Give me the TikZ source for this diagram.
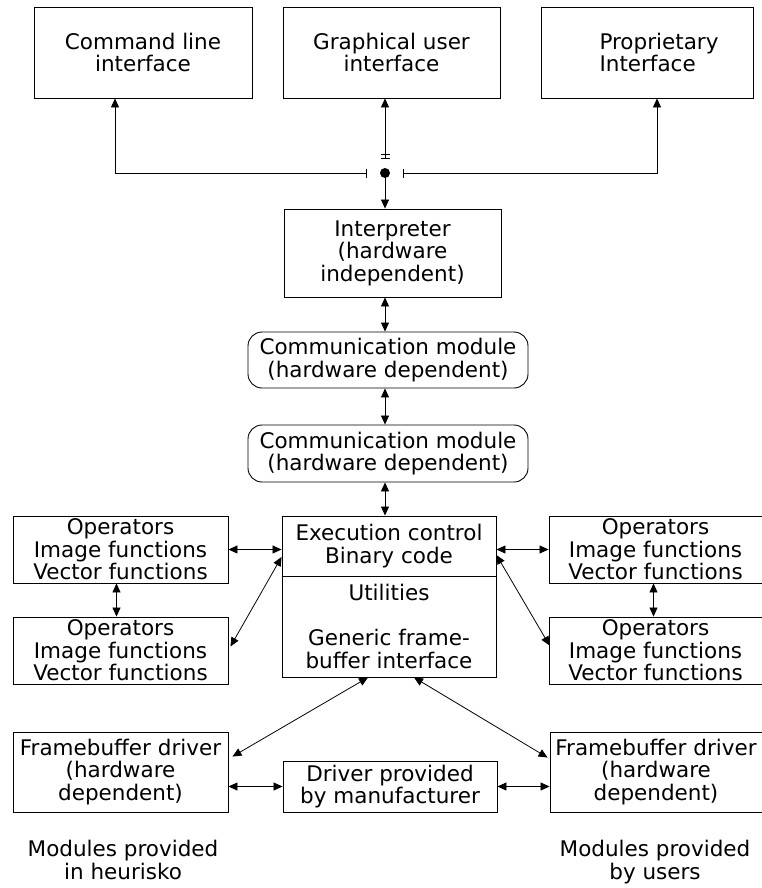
\documentclass[tikz,border=0pt]{standalone}
\usepackage{fontspec}
\setmainfont{DejaVu Sans}
\usetikzlibrary{arrows.meta}

\begin{document}
\begin{tikzpicture}[x=1pt,y=-1pt,>={Triangle[length=9pt,width=8pt]},
  box/.style={draw,line width=0.9pt,align=center,inner sep=0pt,font=\fontsize{21.5}{22.5}\selectfont},
  caption/.style={align=center,inner sep=0pt,anchor=north,font=\fontsize{21.5}{22.5}\selectfont},
  link/.style={line width=0.8pt}]
\useasboundingbox (0,0) rectangle (762,888);
\node[box,minimum width=218pt,minimum height=91pt] (cli) at (143,52.5) {Command line\\interface};
\node[box,minimum width=217pt,minimum height=91pt] (gui) at (391.5,52.5) {Graphical user\\interface};
\node[box,minimum width=212pt,minimum height=91pt,align=left] (prop) at (647,52.5) {\hspace*{24pt}Proprietary\\\hspace*{24pt}Interface};
\node[box,minimum width=217pt,minimum height=88pt] (interp) at (392.5,253) {Interpreter\\(hardware\\independent)};
\node[box,rounded corners=14pt,minimum width=280pt,minimum height=56pt] (comm1) at (388,360) {Communication module\\(hardware dependent)};
\node[box,rounded corners=14pt,minimum width=280pt,minimum height=57pt] (comm2) at (388,453.5) {Communication module\\(hardware dependent)};
\node[box,minimum width=214pt,minimum height=60pt] (exec) at (389,546) {Execution control\\Binary code};
\node[box,minimum width=214pt,minimum height=101pt] (util) at (389,626.5) {Utilities\\[22.5pt]Generic frame-\\buffer interface};
\node[box,minimum width=215pt,minimum height=67pt] (opL1) at (120.5,549.5) {Operators\\Image functions\\Vector functions};
\node[box,minimum width=215pt,minimum height=67pt] (opL2) at (120.5,650.5) {Operators\\Image functions\\Vector functions};
\node[box,minimum width=213pt,minimum height=67pt] (opR1) at (655.5,549.5) {Operators\\Image functions\\Vector functions};
\node[box,minimum width=213pt,minimum height=67pt] (opR2) at (655.5,650.5) {Operators\\Image functions\\Vector functions};
\node[box,minimum width=215pt,minimum height=80pt] (fbL) at (120.5,772) {Framebuffer driver\\(hardware\\dependent)};
\node[box,minimum width=214pt,minimum height=51pt] (drv) at (390,786.5) {Driver provided\\by manufacturer};
\node[box,minimum width=212pt,minimum height=80pt] (fbR) at (656,772) {Framebuffer driver\\(hardware\\dependent)};
\node[caption] (heurisko) at (123,840) {Modules provided\\in heurisko};
\node[caption] (users) at (655,840) {Modules provided\\by users};
\coordinate (junc) at (385,173);
\fill (junc) circle (5);
\draw[link,{Bar[width=9pt]}->] ([xshift=-18]junc) -| ([xshift=-28]cli.south);
\draw[link,{Bar[width=9pt]}->] ([xshift=18]junc) -| ([xshift=10]prop.south);
\draw[link,->] ([yshift=15]junc) -- (junc |- gui.south);
\draw[link] ([xshift=-4.5,yshift=15]junc) -- ([xshift=4.5,yshift=15]junc)
  ([xshift=-4.5,yshift=18.5]junc) -- ([xshift=4.5,yshift=18.5]junc);
\draw[link,->] (junc) -- (junc |- interp.north);
\draw[link,<->] (junc |- interp.south) -- (junc |- comm1.north);
\draw[link,<->] (junc |- comm1.south) -- (junc |- comm2.north);
\draw[link,<->] (junc |- comm2.south) -- (junc |- exec.north);
\draw[link,<->] (opL1.east) -- (opL1.east -| exec.west);
\draw[link,<->] (opR1.west) -- (opR1.west -| exec.east);
\draw[link,<->] ([xshift=-4]opL1.south) -- ([xshift=-4]opL2.north);
\draw[link,<->] ([xshift=-2]opR1.south) -- ([xshift=-2]opR2.north);
\draw[link,<->] ([xshift=2,yshift=4]opL2.east) -- ([yshift=-11]exec.west);
\draw[link,<->] ([xshift=1,yshift=5]opR2.west) -- ([yshift=-9]exec.east);
\draw[link,<->] ([xshift=4,yshift=-25]fbL.north east) -- ([xshift=-21]util.south);
\draw[link,<->] ([xshift=-2,yshift=-26]fbR.north west) -- ([xshift=25]util.south);
\draw[link,<->] (drv.west -| fbL.east) -- (drv.west);
\draw[link,<->] (drv.east) -- (drv.east -| fbR.west);
\end{tikzpicture}
\end{document}
